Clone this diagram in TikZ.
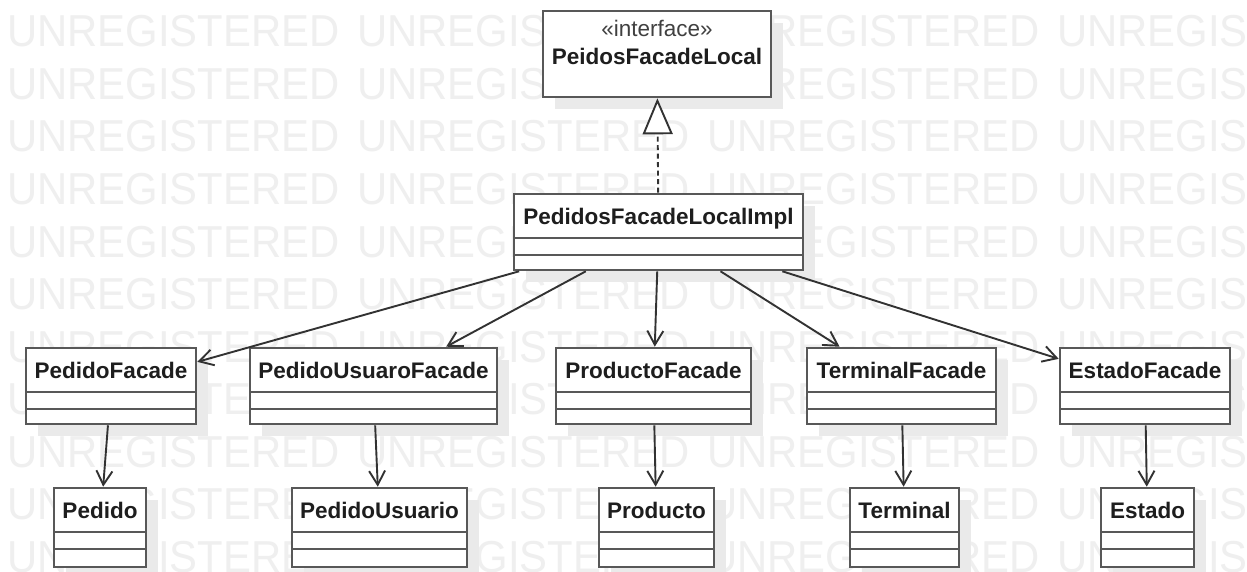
\documentclass[tikz,border=0pt]{standalone}
\usepackage{graphicx}
\usepackage{fontspec}
\setmainfont{Liberation Sans}
\usetikzlibrary{arrows.meta,calc}

\definecolor{edgegray}{RGB}{88,88,88}
\definecolor{wirecol}{RGB}{50,50,50}
\definecolor{inkcol}{RGB}{30,30,30}
\definecolor{wmcol}{RGB}{239,239,239}
\definecolor{shadecol}{RGB}{234,234,234}

\tikzset{
  classbox/.style={draw=edgegray, line width=2.6pt, fill=white, rectangle, inner sep=0pt},
  classname/.style={font=\fontsize{22.5}{26}\selectfont\bfseries, text=inkcol, inner sep=0pt},
  stereo/.style={font=\fontsize{22.5}{26}\selectfont, text=inkcol!85, inner sep=0pt},
  compline/.style={draw=edgegray, line width=2.4pt},
  shadowbox/.style={fill=shadecol},
  assoc/.style={draw=wirecol, line width=1.9pt, -{Straight Barb[length=14pt,width=16pt]}},
  realize/.style={draw=wirecol, line width=1.9pt, dash pattern=on 5pt off 3.5pt,
                  -{Triangle[length=36pt,width=30pt,fill=white]}},
  wm/.style={font=\fontsize{44.7}{50}\selectfont, text=wmcol, inner sep=0pt, anchor=base west},
}

% class box with name compartment and two empty compartments
\newcommand\umlclassbox[6]{%
  \pgfmathsetmacro\cbw{#4-#2}\pgfmathsetmacro\cbh{#5-#3}%
  \pgfmathsetmacro\cbx{(#2+#4)/2}\pgfmathsetmacro\cby{(#3+#5)/2}%
  \fill[shadowbox] ({#2+12},{#3+12}) rectangle ({#4+12},{#5+12});
  \node[classbox, minimum width=\cbw pt, minimum height=\cbh pt] (#1) at (\cbx,\cby) {};
  \node[classname, anchor=base] (#1-name) at (\cbx,{#3+30}) {#6};
  \draw[compline] ({#2},{#3+44}) -- ({#4},{#3+44});
  \draw[compline] ({#2},{#3+61}) -- ({#4},{#3+61});
}

\begin{document}
\begin{tikzpicture}[x=1pt,y=-1pt]
\useasboundingbox (0,0) rectangle (1247,572);
\fill[white] (0,0) rectangle (1247,572);

% background watermark
\begin{scope}
\clip (0,0) rectangle (1247,572);
\foreach \r in {0,...,10}{
  \foreach \c in {0,...,3}{
    \node[wm] (wm-\r-\c) at ({7+350*\c},{47+52.5*\r}) {\scalebox{.935}[1]{UNREGISTERED}};
  }
}
\end{scope}

% interface
\fill[shadowbox] (555,23) rectangle (783,109);
\node[classbox, minimum width=228pt, minimum height=86pt] (iface) at (657,54) {};
\node[stereo, anchor=base] (iface-st) at (657,37) {«interface»};
\node[classname, anchor=base] (iface-name) at (657,65) {PeidosFacadeLocal};

% implementation
\umlclassbox{impl}{514}{194}{803}{270}{PedidosFacadeLocalImpl}

% facades
\umlclassbox{pf}{26}{348}{196}{424}{PedidoFacade}
\umlclassbox{puf}{250}{348}{497}{424}{PedidoUsuaroFacade}
\umlclassbox{prf}{556}{348}{751}{424}{ProductoFacade}
\umlclassbox{tf}{807}{348}{996}{424}{TerminalFacade}
\umlclassbox{ef}{1060}{348}{1230}{424}{EstadoFacade}

% entities
\umlclassbox{p}{54}{488}{146}{567}{Pedido}
\umlclassbox{pu}{292}{488}{467}{567}{PedidoUsuario}
\umlclassbox{pr}{599}{488}{714}{567}{Producto}
\umlclassbox{t}{850}{488}{959}{567}{Terminal}
\umlclassbox{e}{1101}{488}{1194}{567}{Estado}

% realization
\draw[realize] (impl) -- (iface);

% associations
\draw[assoc] (impl) -- (pf);
\draw[assoc] (impl) -- (puf);
\draw[assoc] (impl) -- (prf);
\draw[assoc] (impl) -- (tf);
\draw[assoc] (impl) -- (ef);

\draw[assoc] (pf) -- (p);
\draw[assoc] (puf) -- (pu);
\draw[assoc] (prf) -- (pr);
\draw[assoc] (tf) -- (t);
\draw[assoc] (ef) -- (e);
\end{tikzpicture}
\end{document}
